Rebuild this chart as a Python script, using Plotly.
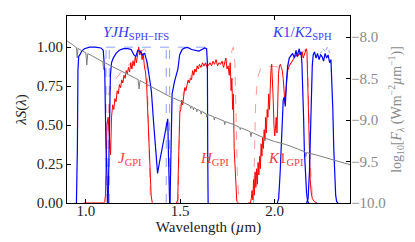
import plotly.graph_objects as go

# ---------------- data ----------------
# Stellar spectrum (right axis, log10 F_lambda)
SPEC_WL = [0.900, 0.915, 0.930, 0.945, 0.950, 0.954, 0.958, 0.975, 0.995, 1.000, 1.005, 1.010,
           1.030, 1.060, 1.085, 1.090, 1.094, 1.098, 1.130, 1.160, 1.200, 1.240, 1.277, 1.282,
           1.287, 1.320, 1.360, 1.400, 1.450, 1.500, 1.540, 1.553, 1.556, 1.559, 1.567, 1.570,
           1.573, 1.585, 1.588, 1.591, 1.608, 1.611, 1.614, 1.638, 1.641, 1.644, 1.678, 1.681,
           1.684, 1.733, 1.736, 1.739, 1.780, 1.815, 1.818, 1.821, 1.871, 1.875, 1.879, 1.940,
           1.945, 1.950, 2.000, 2.060, 2.120, 2.162, 2.166, 2.170, 2.220, 2.300, 2.400]
SPEC_LOGF = [-8.045, -8.065, -8.090, -8.118, -8.125, -8.250, -8.135, -8.160, -8.182, -8.188, -8.335, -8.198,
             -8.222, -8.255, -8.290, -8.297, -8.390, -8.305, -8.342, -8.376, -8.421, -8.470, -8.512, -8.625,
             -8.522, -8.565, -8.612, -8.660, -8.722, -8.769, -8.812, -8.828, -8.860, -8.832, -8.845, -8.878,
             -8.850, -8.866, -8.900, -8.870, -8.890, -8.928, -8.895, -8.925, -8.965, -8.930, -8.960, -9.000,
             -8.966, -9.012, -9.055, -9.018, -9.050, -9.088, -9.115, -9.092, -9.140, -9.200, -9.148, -9.210,
             -9.250, -9.218, -9.258, -9.295, -9.345, -9.385, -9.440, -9.392, -9.420, -9.474, -9.538]

# SPHERE filters (solid blue)
SPH_Y_WL = [0.950, 0.955, 0.958, 0.962, 0.968, 0.978, 0.992, 1.020, 1.050, 1.080, 1.092, 1.100, 1.106, 1.111, 1.116]
SPH_Y_T = [0.0, 0.35, 0.85, 0.94, 0.95, 0.975, 0.99, 1.0, 1.0, 0.995, 0.98, 0.85, 0.40, 0.08, 0.0]

SPH_J_WL = [1.118, 1.122, 1.126, 1.130, 1.136, 1.145, 1.160, 1.177, 1.200, 1.223, 1.240, 1.255, 1.265,
            1.275, 1.290, 1.300, 1.312, 1.325, 1.335, 1.347, 1.360, 1.370, 1.380, 1.390, 1.400, 1.410,
            1.420, 1.430, 1.434, 1.438, 1.441, 1.444]
SPH_J_T = [0.0, 0.25, 0.6, 0.82, 0.9, 0.93, 0.96, 0.98, 0.99, 0.99, 0.985, 0.95, 0.94, 0.98, 0.97, 0.95,
           0.96, 0.9, 0.82, 0.72, 0.5, 0.33, 0.19, 0.26, 0.32, 0.39, 0.46, 0.52, 0.54, 0.3, 0.05, 0.0]

SPH_H_WL = [1.446, 1.449, 1.452, 1.457, 1.470, 1.488, 1.497, 1.510, 1.525, 1.540, 1.560, 1.580, 1.600,
            1.615, 1.630, 1.640, 1.644, 1.646, 1.648]
SPH_H_T = [0.0, 0.3, 0.5, 0.7, 0.78, 0.86, 0.95, 0.985, 0.995, 0.998, 0.985, 0.98, 0.975, 0.985, 0.995,
           0.99, 0.9, 0.3, 0.0]

SPH_K1_WL = [2.015, 2.022, 2.030, 2.038, 2.046, 2.052, 2.057, 2.064, 2.070, 2.078, 2.087, 2.096, 2.105,
             2.114, 2.120, 2.126, 2.131, 2.136, 2.140, 2.145, 2.149, 2.154, 2.158, 2.164, 2.170, 2.176, 2.182]
SPH_K1_T = [0.0, 0.03, 0.2, 0.45, 0.66, 0.68, 0.62, 0.8, 0.88, 0.93, 0.95, 0.96, 0.93, 0.98, 0.94, 0.97,
            0.99, 0.95, 0.97, 0.9, 0.77, 0.55, 0.34, 0.15, 0.06, 0.01, 0.0]

SPH_K2_WL = [2.170, 2.178, 2.185, 2.190, 2.195, 2.200, 2.205, 2.212, 2.220, 2.228, 2.236, 2.244, 2.252,
             2.260, 2.268, 2.276, 2.284, 2.292, 2.299, 2.304, 2.309, 2.314, 2.319, 2.324, 2.329, 2.336]
SPH_K2_T = [0.0, 0.03, 0.2, 0.45, 0.7, 0.88, 0.95, 0.97, 0.93, 0.96, 0.92, 0.95, 0.94, 0.91, 0.96, 0.93,
            0.95, 0.9, 0.92, 0.8, 0.6, 0.35, 0.15, 0.05, 0.01, 0.0]

# SPHERE IFS YJH boxes (light dashed blue)
IFS_EDGES = [1.107, 1.124, 1.426, 1.444]
IFS_LIMITS = [1.107, 1.647]
IFS_LEVEL = 1.0
SPH_K2_DASH_WL = [2.240, 2.250, 2.258, 2.268, 2.280, 2.290, 2.298]
SPH_K2_DASH_T = [0.96, 0.97, 0.99, 0.97, 1.0, 0.97, 0.95]

# GPI filters (solid red)
GPI_J_WL = [0.990, 1.095, 1.100, 1.104, 1.108, 1.112, 1.118, 1.124, 1.128, 1.131, 1.136, 1.142, 1.148,
            1.154, 1.160, 1.166, 1.172, 1.178, 1.184, 1.190, 1.196, 1.202, 1.208, 1.214, 1.220, 1.226,
            1.232, 1.238, 1.244, 1.250, 1.256, 1.262, 1.268, 1.274, 1.280, 1.286, 1.292, 1.298, 1.304,
            1.310, 1.316, 1.322, 1.328, 1.334, 1.340, 1.346, 1.352]
GPI_J_T = [0.0, 0.0, 0.01, 0.05, 0.3, 0.5, 0.55, 0.45, 0.35, 0.31, 0.55, 0.63, 0.6, 0.67, 0.65, 0.72,
           0.7, 0.76, 0.74, 0.79, 0.77, 0.82, 0.8, 0.85, 0.83, 0.87, 0.84, 0.9, 0.86, 0.91, 0.88, 0.94,
           0.9, 0.96, 1.0, 0.95, 0.98, 0.92, 0.96, 0.88, 0.84, 0.76, 0.6, 0.42, 0.2, 0.05, 0.0]

GPI_H_WL = [1.480, 1.487, 1.490, 1.494, 1.498, 1.503, 1.508, 1.513, 1.518, 1.524, 1.530, 1.536, 1.542,
            1.548, 1.554, 1.560, 1.566, 1.572, 1.578, 1.584, 1.590, 1.596, 1.602, 1.610, 1.618, 1.626,
            1.634, 1.642, 1.650, 1.658, 1.666, 1.674, 1.682, 1.690, 1.698, 1.706, 1.714, 1.722, 1.730,
            1.736, 1.742, 1.748, 1.754, 1.760, 1.765, 1.770, 1.774, 1.778, 1.782, 1.786, 1.790, 1.795,
            1.800, 1.810]
GPI_H_T = [0.0, 0.02, 0.2, 0.5, 0.58, 0.6, 0.66, 0.63, 0.68, 0.74, 0.72, 0.76, 0.79, 0.77, 0.8, 0.79,
           0.85, 0.82, 0.86, 0.84, 0.88, 0.86, 0.89, 0.87, 0.9, 0.88, 0.9, 0.87, 0.89, 0.9, 0.88, 0.91,
           0.89, 0.92, 0.88, 0.9, 0.89, 0.91, 0.87, 0.9, 0.93, 0.86, 0.88, 0.82, 0.9, 0.72, 0.8, 0.6,
           0.7, 0.35, 0.22, 0.06, 0.01, 0.0]

GPI_K1_WL = [1.860, 1.872, 1.877, 1.881, 1.885, 1.889, 1.893, 1.897, 1.901, 1.905, 1.909, 1.913, 1.917,
             1.921, 1.925, 1.929, 1.933, 1.937, 1.941, 1.945, 1.949, 1.953, 1.957, 1.961, 1.965, 1.969,
             1.973, 1.977, 1.981, 1.985, 1.989, 1.993, 1.997, 2.001, 2.005, 2.009, 2.013, 2.017, 2.021,
             2.026, 2.031, 2.036, 2.041, 2.046, 2.051, 2.055, 2.059, 2.064, 2.070, 2.078, 2.087, 2.096,
             2.105, 2.114, 2.123, 2.132, 2.140, 2.146, 2.152, 2.158, 2.163, 2.168, 2.172, 2.176, 2.180,
             2.184, 2.189, 2.194, 2.200, 2.210, 2.225]
GPI_K1_T = [0.0, 0.0, 0.03, 0.08, 0.02, 0.15, 0.05, 0.2, 0.1, 0.22, 0.12, 0.26, 0.18, 0.3, 0.22, 0.38,
            0.3, 0.42, 0.35, 0.47, 0.4, 0.55, 0.45, 0.6, 0.55, 0.7, 0.6, 0.78, 0.85, 0.89, 0.8, 0.66,
            0.5, 0.43, 0.48, 0.55, 0.45, 0.7, 0.83, 0.88, 0.89, 0.87, 0.85, 0.8, 0.68, 0.64, 0.7, 0.78,
            0.85, 0.88, 0.9, 0.92, 0.93, 0.95, 0.94, 0.96, 0.95, 0.97, 0.93, 0.96, 0.98, 0.99, 0.97,
            0.8, 0.55, 0.3, 0.15, 0.07, 0.03, 0.01, 0.0]

# GPI smooth curves (light dashed red)
GPI_J_DASH_WL = [1.112, 1.117, 1.122, 1.135, 1.160, 1.200, 1.240, 1.280, 1.310, 1.322, 1.330, 1.336, 1.342]
GPI_J_DASH_T = [0.0, 0.5, 0.7, 0.76, 0.8, 0.86, 0.9, 0.95, 0.99, 0.97, 0.6, 0.15, 0.0]
GPI_H_DASH_WL = [1.488, 1.493, 1.498, 1.510, 1.530, 1.560, 1.600, 1.650, 1.700, 1.740, 1.760, 1.772,
                 1.782, 1.790, 1.797, 1.803, 1.810, 1.816]
GPI_H_DASH_T = [0.0, 0.4, 0.62, 0.68, 0.75, 0.82, 0.87, 0.89, 0.9, 0.9, 0.92, 0.97, 1.0, 0.9, 0.55,
                0.18, 0.03, 0.0]
GPI_K_DASH_WL = [1.888, 1.893, 1.900, 1.910, 1.925, 1.950, 2.000, 2.050, 2.080, 2.110, 2.140, 2.165,
                 2.175, 2.182, 2.190, 2.200, 2.210]
GPI_K_DASH_T = [0.0, 0.35, 0.65, 0.8, 0.86, 0.88, 0.875, 0.87, 0.89, 0.93, 0.96, 0.985, 0.9, 0.6,
                0.25, 0.06, 0.0]

X_TICKS = [1.0, 1.5, 2.0]
Y_TICKS = [0.0, 0.25, 0.5, 0.75, 1.0]
Y2_TICKS = [-10.0, -9.5, -9.0, -8.5, -8.0]

# ---------------- styling ----------------
FONT = "'Liberation Serif', 'DejaVu Serif', serif"
BLUE = "#0000ff"
RED = "#ff0000"
LBLUE = "#8ca0ff"
LRED = "#ff9a9a"
GRAY = "#808080"

fig = go.Figure()


def line(x, y, color, width=1.1, dash="solid", yaxis="y"):
    fig.add_trace(go.Scatter(x=x, y=y, mode="lines", yaxis=yaxis,
                             line=dict(color=color, width=width, dash=dash),
                             hoverinfo="skip", showlegend=False))


# dashed boxes / smooth curves
box_x, box_y = [IFS_LIMITS[0], IFS_LIMITS[1]], [IFS_LEVEL, IFS_LEVEL]
for e in IFS_EDGES:
    box_x += [None, e, e]
    box_y += [None, 0, IFS_LEVEL]
line(box_x, box_y, LBLUE, 1.0, "dash")
line(SPH_K2_DASH_WL, SPH_K2_DASH_T, LBLUE, 1.0, "dot")
line(GPI_J_DASH_WL, GPI_J_DASH_T, LRED, 1.0, "dash")
line(GPI_H_DASH_WL, GPI_H_DASH_T, LRED, 1.0, "dash")
line(GPI_K_DASH_WL, GPI_K_DASH_T, LRED, 1.0, "dash")

# GPI solid
for wl, t in [(GPI_J_WL, GPI_J_T), (GPI_H_WL, GPI_H_T), (GPI_K1_WL, GPI_K1_T)]:
    line(wl, t, RED, 1.0)
# SPHERE solid
for wl, t in [(SPH_Y_WL, SPH_Y_T), (SPH_J_WL, SPH_J_T), (SPH_H_WL, SPH_H_T),
              (SPH_K1_WL, SPH_K1_T), (SPH_K2_WL, SPH_K2_T)]:
    line(wl, t, BLUE, 1.2)

# spectrum on right axis
line(SPEC_WL, SPEC_LOGF, GRAY, 1.0, yaxis="y2")

ann_font = dict(family=FONT, size=15)
annotations = [
    dict(x=1.08, y=1.09, text="<i>YJH</i><sub>SPH−IFS</sub>", font=dict(color="#3a3aff", **ann_font)),
    dict(x=1.978, y=1.09, text="<i>K</i>1/<i>K</i>2<sub>SPH</sub>", font=dict(color="#3a3aff", **ann_font)),
    dict(x=1.16, y=0.28, text="<i>J</i><sub>GPI</sub>", font=dict(color="#ff3a3a", **ann_font)),
    dict(x=1.592, y=0.28, text="<i>H</i><sub>GPI</sub>", font=dict(color="#ff3a3a", **ann_font)),
    dict(x=1.953, y=0.28, text="<i>K</i>1<sub>GPI</sub>", font=dict(color="#ff3a3a", **ann_font)),
]
for a in annotations:
    a.update(xref="x", yref="y", xanchor="left", yanchor="middle", showarrow=False)

fig.update_layout(
    width=415, height=242,
    margin=dict(l=59, r=73, t=8, b=47),
    paper_bgcolor="white", plot_bgcolor="white",
    font=dict(family=FONT, size=15, color="#222222"),
    annotations=annotations,
    xaxis=dict(range=[0.9, 2.4], tickvals=X_TICKS, tickformat=".1f",
               ticks="inside", ticklen=4, tickcolor="black", mirror="ticks",
               showline=True, linecolor="black", linewidth=1, showgrid=False, zeroline=False,
               ticklabelstandoff=-6,
               title=dict(text="Wavelength (<i>µ</i>m)", standoff=2, font=dict(family=FONT, size=15)),
               tickfont=dict(family=FONT, size=15)),
    yaxis=dict(range=[0, 1.2], tickvals=Y_TICKS, tickformat=".2f",
               ticks="inside", ticklen=4, tickcolor="black", mirror=True,
               showline=True, linecolor="black", linewidth=1, showgrid=False, zeroline=False,
               title=dict(text="<i>λS</i>(<i>λ</i>)", standoff=6, font=dict(family=FONT, size=15)),
               tickfont=dict(family=FONT, size=15)),
    yaxis2=dict(overlaying="y", side="right", range=[-10, -10 + 1.2 * 156 / 83],
                tickvals=Y2_TICKS, tickformat=".1f",
                ticks="inside", ticklen=4, tickcolor="black",
                showline=False, showgrid=False, zeroline=False,
                tickfont=dict(family=FONT, size=15, color="#8a8a8a"),
                title=dict(text="log<sub>10</sub>[<i>F</i><sub><i>λ</i></sub> (Wm<sup>−2</sup><i>µ</i>m<sup>−1</sup>)]",
                           font=dict(family=FONT, size=14, color="#8a8a8a"), standoff=6)),
)

fig.write_html("out.html")
